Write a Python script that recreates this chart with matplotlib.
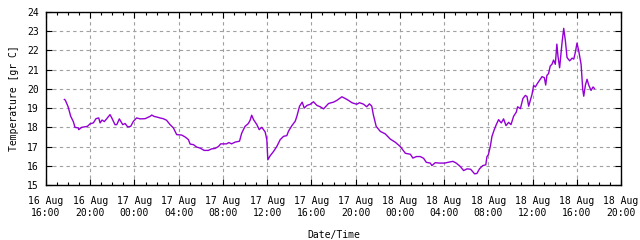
import numpy as np
import matplotlib
matplotlib.use('Agg')
import matplotlib.pyplot as plt

# hours since 16 Aug 16:00 and temperature readings
hours = [1.66, 1.75, 2.0, 2.23, 2.47, 2.62, 2.93, 2.96, 3.23, 3.74, 3.98, 4.28, 4.52,
         4.77, 4.89, 5.07, 5.28, 5.49, 5.79, 5.94, 6.24, 6.4, 6.63, 6.94, 7.15, 7.39,
         7.66, 7.9, 8.2, 8.5, 8.96, 9.41, 9.56, 9.77, 10.0, 10.3, 10.6, 10.9, 11.22,
         11.52, 11.82, 12.27, 12.58, 12.88, 13.03, 13.33, 13.64, 13.94, 14.3, 14.68,
         14.98, 15.28, 15.59, 15.8, 16.33, 16.54, 16.78, 17.1, 17.5, 17.7, 18.0, 18.3,
         18.46, 18.6, 18.77, 19.07, 19.28, 19.52, 19.82, 19.97, 20.06, 20.27, 20.57,
         20.87, 21.18, 21.48, 21.78, 21.93, 22.24, 22.54, 22.69, 22.93, 23.17, 23.35,
         23.6, 23.9, 24.19, 24.5, 24.8, 25.1, 25.55, 26.0, 26.3, 26.76, 27.06, 27.36,
         27.67, 28.1, 28.35, 28.7, 29.0, 29.25, 29.46, 29.6, 29.86, 30.23, 30.68,
         31.13, 31.6, 32.04, 32.5, 32.95, 33.18, 33.5, 33.85, 34.15, 34.39, 34.75,
         34.9, 35.2, 35.6, 36.06, 36.36, 36.8, 37.1, 37.47, 37.77, 38.07, 38.4, 38.76,
         38.97, 39.2, 39.5, 39.77, 39.88, 40.0, 40.18, 40.33, 40.54, 40.72, 40.93,
         41.17, 41.38, 41.6, 41.84, 42.05, 42.29, 42.53, 42.65, 42.9, 43.13, 43.35,
         43.5, 43.65, 43.8, 43.95, 44.1, 44.25, 44.46, 44.86, 45.07, 45.19, 45.3,
         45.45, 45.6, 45.76, 45.9, 46.06, 46.2, 46.3, 46.45, 46.67, 46.82, 46.97,
         47.12, 47.36, 47.58, 47.73, 47.87, 48.02, 48.17, 48.39, 48.54, 48.63, 48.78,
         48.93, 49.08, 49.29, 49.47, 49.6]
temps = [19.45, 19.41, 19.07, 18.58, 18.3, 18.0, 17.97, 17.88, 18.0, 18.05, 18.18, 18.23,
         18.45, 18.49, 18.23, 18.38, 18.3, 18.45, 18.66, 18.5, 18.14, 18.14, 18.44,
         18.14, 18.2, 18.02, 18.05, 18.31, 18.49, 18.44, 18.45, 18.57, 18.64, 18.57,
         18.54, 18.49, 18.45, 18.37, 18.14, 17.97, 17.62, 17.6, 17.5, 17.36, 17.13,
         17.1, 16.97, 16.92, 16.8, 16.8, 16.88, 16.9, 17.0, 17.14, 17.14, 17.21, 17.14,
         17.23, 17.28, 17.7, 18.05, 18.2, 18.37, 18.63, 18.4, 18.14, 17.88, 18.0, 17.76,
         17.36, 16.31, 16.52, 16.74, 17.0, 17.36, 17.53, 17.57, 17.8, 18.09, 18.32,
         18.58, 19.1, 19.31, 19.0, 19.14, 19.2, 19.33, 19.14, 19.07, 18.96, 19.24, 19.31,
         19.4, 19.59, 19.5, 19.4, 19.28, 19.2, 19.28, 19.21, 19.07, 19.22, 19.1, 18.66,
         18.05, 17.79, 17.66, 17.39, 17.22, 17.0, 16.65, 16.6, 16.4, 16.48, 16.48,
         16.39, 16.18, 16.14, 16.01, 16.16, 16.14, 16.14, 16.18, 16.23, 16.14, 15.96,
         15.75, 15.84, 15.82, 15.58, 15.6, 15.84, 16.01, 16.05, 16.48, 16.57, 17.0,
         17.53, 17.88, 18.14, 18.4, 18.23, 18.44, 18.09, 18.26, 18.14, 18.58, 18.79,
         19.07, 18.97, 19.5, 19.66, 19.6, 19.1, 19.4, 19.71, 20.18, 20.1, 20.3, 20.64,
         20.58, 20.2, 20.7, 20.8, 21.19, 21.28, 21.5, 21.28, 22.33, 21.7, 21.1, 22.42,
         23.15, 22.5, 21.63, 21.46, 21.6, 21.55, 21.9, 22.38, 22.0, 21.28, 19.97, 19.62,
         20.2, 20.5, 20.2, 19.92, 20.1, 20.02]

tick_labels = ['16 Aug\n16:00', '16 Aug\n20:00', '17 Aug\n00:00', '17 Aug\n04:00',
               '17 Aug\n08:00', '17 Aug\n12:00', '17 Aug\n16:00', '17 Aug\n20:00',
               '18 Aug\n00:00', '18 Aug\n04:00', '18 Aug\n08:00', '18 Aug\n12:00',
               '18 Aug\n16:00', '18 Aug\n20:00']
y_ticks = list(range(15, 25))

plt.rcParams['font.family'] = ['DejaVu Sans Mono']
plt.rcParams['font.size'] = 7

fig = plt.figure(figsize=(6.4, 2.4), dpi=100)
ax = fig.add_axes([46 / 640, 1 - 185 / 240, 575 / 640, 173 / 240])

ax.plot(hours, temps, color='#9400d3', lw=1.0)

ax.set_xlim(0, 52)
ax.set_ylim(15, 24)
ax.set_xticks(np.arange(0, 53, 4))
ax.set_xticklabels(tick_labels)
ax.set_xticks(np.arange(0, 53, 1), minor=True)
ax.set_yticks(y_ticks)

ax.grid(True, which='major', color='#a0a0a0', linestyle=(0, (3, 3)), lw=0.8)
ax.tick_params(which='major', direction='in', length=4, width=0.8,
               top=True, right=True, colors='black')
ax.tick_params(which='minor', direction='in', length=2, width=0.8,
               top=True, right=False, left=False)
ax.tick_params(axis='x', pad=8)
ax.tick_params(axis='y', pad=5)
for s in ax.spines.values():
    s.set_linewidth(1.0)

ax.set_xlabel('Date/Time', labelpad=9)
ax.set_ylabel('Temperature [gr C]', labelpad=6)

fig.savefig('out.png', dpi=100)
